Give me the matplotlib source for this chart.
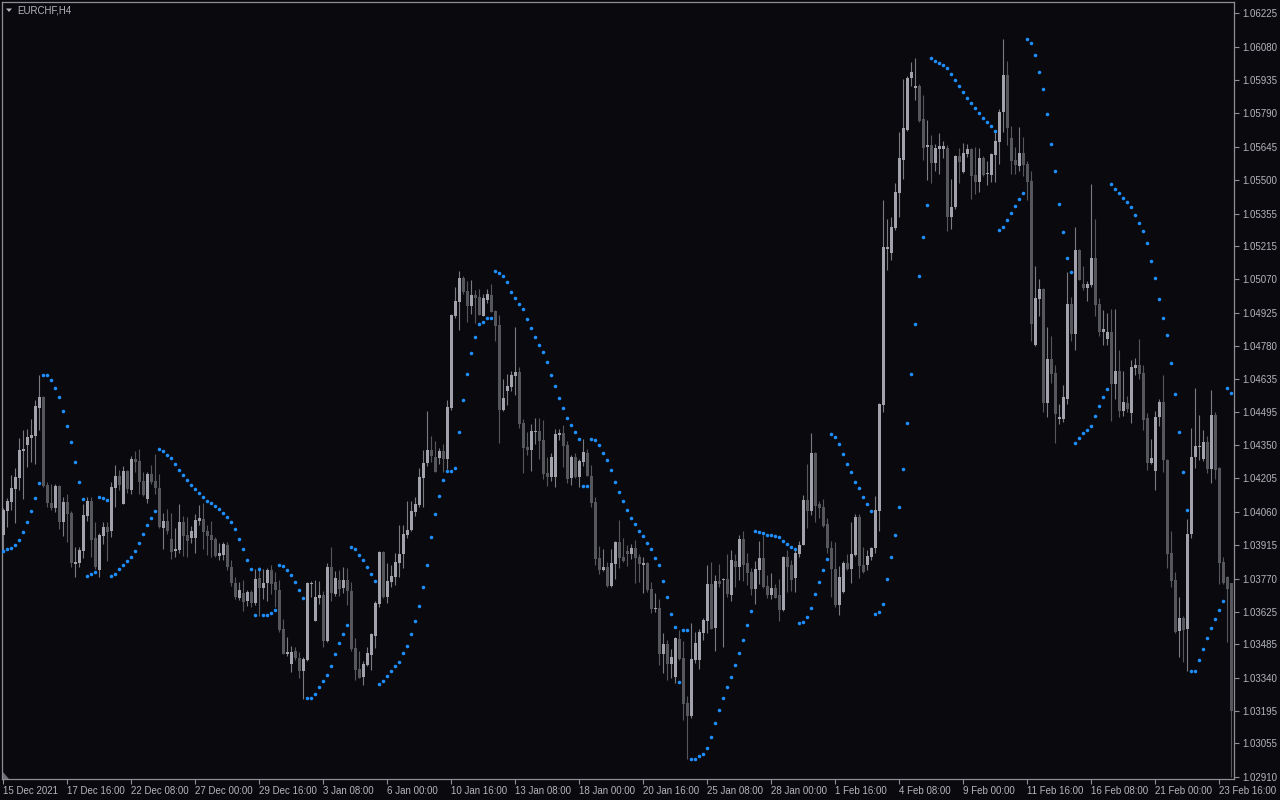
import matplotlib
matplotlib.use("Agg")
import matplotlib.pyplot as plt
import matplotlib.transforms as mtransforms
from matplotlib.patches import Polygon
import numpy as np

symbol_label = "EURCHF,H4"

open_ = [
    1.03960, 1.04064, 1.04103, 1.04159, 1.04207, 1.04324, 1.04350, 1.04381, 1.04390, 1.04511,
    1.04559, 1.04177, 1.04097, 1.04077, 1.04172, 1.04016, 1.04103, 1.04055, 1.03834, 1.03838,
    1.03890, 1.04042, 1.04107, 1.03947, 1.03808, 1.03955, 1.03994, 1.03977, 1.04164, 1.04216,
    1.04094, 1.04238, 1.04155, 1.04290, 1.04281, 1.04194, 1.04116, 1.04225, 1.04194, 1.04164,
    1.03990, 1.04020, 1.03942, 1.03890, 1.03895, 1.04016, 1.03960, 1.03947, 1.03947, 1.04020,
    1.04029, 1.03977, 1.03960, 1.03942, 1.03868, 1.03873, 1.03916, 1.03821, 1.03751, 1.03686,
    1.03708, 1.03673, 1.03712, 1.03664, 1.03773, 1.03730, 1.03751, 1.03808, 1.03756, 1.03721,
    1.03552, 1.03443, 1.03400, 1.03456, 1.03426, 1.03369, 1.03417, 1.03748, 1.03586, 1.03686,
    1.03699, 1.03499, 1.03821, 1.03704, 1.03764, 1.03730, 1.03764, 1.03717, 1.03469, 1.03378,
    1.03343, 1.03395, 1.03439, 1.03521, 1.03660, 1.03886, 1.03690, 1.03756, 1.03777, 1.03838,
    1.03877, 1.03960, 1.03981, 1.04060, 1.04090, 1.04207, 1.04272, 1.04329, 1.04298, 1.04294,
    1.04324, 1.04290, 1.04511, 1.04911, 1.04971, 1.05076, 1.05019, 1.04954, 1.05002, 1.04993,
    1.04911, 1.04980, 1.05002, 1.04932, 1.04871, 1.04502, 1.04585, 1.04602, 1.04650, 1.04667,
    1.04446, 1.04342, 1.04329, 1.04407, 1.04411, 1.04372, 1.04229, 1.04212, 1.04212, 1.04394,
    1.04403, 1.04350, 1.04207, 1.04298, 1.04212, 1.04277, 1.04316, 1.04216, 1.04103, 1.03860,
    1.03808, 1.03821, 1.03738, 1.03834, 1.03929, 1.03864, 1.03890, 1.03877, 1.03903, 1.03864,
    1.03829, 1.03838, 1.03725, 1.03638, 1.03643, 1.03443, 1.03486, 1.03400, 1.03343, 1.03508,
    1.03426, 1.03230, 1.03174, 1.03417, 1.03417, 1.03534, 1.03586, 1.03747, 1.03556, 1.03760,
    1.03764, 1.03769, 1.03699, 1.03847, 1.03821, 1.03940, 1.03837, 1.03798, 1.03723, 1.03809,
    1.03858, 1.03740, 1.03700, 1.03729, 1.03697, 1.03636, 1.03865, 1.03829, 1.03774, 1.03878,
    1.03917, 1.04113, 1.04062, 1.04317, 1.04096, 1.04083, 1.04006, 1.03904, 1.03814, 1.03657,
    1.03710, 1.03840, 1.03814, 1.03874, 1.04039, 1.03830, 1.03830, 1.03865, 1.03901, 1.04062,
    1.04522, 1.05202, 1.05183, 1.05292, 1.05443, 1.05588, 1.05718, 1.05944, 1.05900, 1.05910,
    1.05765, 1.05644, 1.05652, 1.05574, 1.05634, 1.05634, 1.05640, 1.05339, 1.05384, 1.05604,
    1.05535, 1.05614, 1.05634, 1.05522, 1.05492, 1.05596, 1.05525, 1.05522, 1.05610, 1.05666,
    1.05796, 1.05957, 1.05683, 1.05590, 1.05561, 1.05617, 1.05571, 1.05497, 1.04784, 1.04985,
    1.05028, 1.04534, 1.04724, 1.04664, 1.04464, 1.04464, 1.04551, 1.04962, 1.04832, 1.05197,
    1.05050, 1.05032, 1.05046, 1.05162, 1.04962, 1.04842, 1.04811, 1.04842, 1.04617, 1.04671,
    1.04499, 1.04532, 1.04491, 1.04685, 1.04699, 1.04664, 1.04466, 1.04272, 1.04237, 1.04474,
    1.04538, 1.04287, 1.03881, 1.03764, 1.03542, 1.03600, 1.03551, 1.03964, 1.04299, 1.04340,
    1.04291, 1.04363, 1.04247, 1.04482, 1.04251, 1.03842, 1.03778, 1.03751,
]

high = [
    1.04076, 1.04119, 1.04220, 1.04251, 1.04381, 1.04416, 1.04420, 1.04463, 1.04546, 1.04654,
    1.04562, 1.04190, 1.04181, 1.04181, 1.04177, 1.04125, 1.04138, 1.04064, 1.03908, 1.03908,
    1.04094, 1.04125, 1.04125, 1.04016, 1.03968, 1.04016, 1.04016, 1.04190, 1.04264, 1.04242,
    1.04259, 1.04242, 1.04303, 1.04324, 1.04333, 1.04233, 1.04233, 1.04264, 1.04311, 1.04225,
    1.04055, 1.04073, 1.04055, 1.03990, 1.04094, 1.04042, 1.04038, 1.03999, 1.04051, 1.04090,
    1.04099, 1.04003, 1.04020, 1.03951, 1.03925, 1.03929, 1.03929, 1.03851, 1.03777, 1.03756,
    1.03764, 1.03721, 1.03721, 1.03812, 1.03821, 1.03812, 1.03816, 1.03829, 1.03799, 1.03764,
    1.03595, 1.03517, 1.03478, 1.03474, 1.03452, 1.03430, 1.03756, 1.03760, 1.03764, 1.03760,
    1.03717, 1.03838, 1.03908, 1.03803, 1.03808, 1.03821, 1.03816, 1.03756, 1.03512, 1.03456,
    1.03413, 1.03474, 1.03532, 1.03673, 1.03890, 1.03892, 1.03838, 1.03829, 1.03882, 1.04003,
    1.04003, 1.04107, 1.04107, 1.04125, 1.04251, 1.04329, 1.04498, 1.04390, 1.04368, 1.04337,
    1.04355, 1.04546, 1.04919, 1.05036, 1.05106, 1.05084, 1.05063, 1.05067, 1.05023, 1.05028,
    1.05006, 1.05028, 1.05050, 1.04937, 1.04915, 1.04637, 1.04659, 1.04672, 1.04863, 1.04689,
    1.04463, 1.04407, 1.04442, 1.04468, 1.04468, 1.04459, 1.04298, 1.04316, 1.04420, 1.04420,
    1.04437, 1.04368, 1.04307, 1.04316, 1.04290, 1.04377, 1.04333, 1.04264, 1.04125, 1.03912,
    1.03899, 1.03842, 1.03899, 1.03934, 1.04025, 1.03947, 1.03916, 1.03921, 1.03938, 1.03877,
    1.03864, 1.03842, 1.03756, 1.03708, 1.03682, 1.03534, 1.03504, 1.03465, 1.03517, 1.03547,
    1.03499, 1.03261, 1.03578, 1.03539, 1.03552, 1.03599, 1.03829, 1.03842, 1.03786, 1.03834,
    1.03771, 1.03877, 1.03895, 1.03877, 1.03960, 1.03977, 1.03880, 1.03816, 1.03845, 1.03935,
    1.03961, 1.03787, 1.03796, 1.03748, 1.03767, 1.03870, 1.03896, 1.03851, 1.03896, 1.03935,
    1.04134, 1.04269, 1.04401, 1.04320, 1.04109, 1.04118, 1.04034, 1.03935, 1.03931, 1.03826,
    1.03845, 1.03878, 1.04018, 1.04052, 1.04049, 1.03909, 1.03896, 1.03909, 1.04131, 1.04532,
    1.05413, 1.05330, 1.05339, 1.05487, 1.05709, 1.05940, 1.05953, 1.06014, 1.06030, 1.05917,
    1.05869, 1.05762, 1.05696, 1.05657, 1.05705, 1.05670, 1.05652, 1.05504, 1.05609, 1.05640,
    1.05662, 1.05657, 1.05640, 1.05644, 1.05640, 1.05604, 1.05584, 1.05619, 1.05716, 1.05811,
    1.06114, 1.06019, 1.05736, 1.05644, 1.05732, 1.05687, 1.05584, 1.05540, 1.05127, 1.05071,
    1.05030, 1.04863, 1.04825, 1.04699, 1.04528, 1.04609, 1.05102, 1.04995, 1.05297, 1.05201,
    1.05127, 1.05061, 1.05484, 1.05333, 1.04989, 1.04937, 1.04924, 1.04941, 1.04941, 1.04765,
    1.04671, 1.04563, 1.04718, 1.04728, 1.04811, 1.04699, 1.04489, 1.04377, 1.04499, 1.04548,
    1.04654, 1.04289, 1.03977, 1.03799, 1.03690, 1.03609, 1.04030, 1.04423, 1.04598, 1.04482,
    1.04416, 1.04390, 1.04590, 1.04493, 1.04253, 1.03865, 1.03780, 1.03753,
]

low = [
    1.03887, 1.03996, 1.04068, 1.04013, 1.04155, 1.04117, 1.04256, 1.04278, 1.04269, 1.04416,
    1.04170, 1.04081, 1.04068, 1.04060, 1.03986, 1.03955, 1.03929, 1.03821, 1.03777, 1.03821,
    1.03860, 1.04020, 1.03864, 1.03812, 1.03777, 1.03921, 1.03847, 1.03951, 1.04081, 1.04155,
    1.04092, 1.04142, 1.04138, 1.04233, 1.04138, 1.04129, 1.04099, 1.04181, 1.04138, 1.03992,
    1.03899, 1.03964, 1.03855, 1.03864, 1.03882, 1.03868, 1.03864, 1.03925, 1.03882, 1.04003,
    1.03899, 1.03873, 1.03864, 1.03864, 1.03851, 1.03851, 1.03808, 1.03738, 1.03682, 1.03677,
    1.03630, 1.03651, 1.03648, 1.03656, 1.03608, 1.03682, 1.03673, 1.03704, 1.03647, 1.03539,
    1.03441, 1.03434, 1.03365, 1.03417, 1.03339, 1.03248, 1.03413, 1.03690, 1.03584, 1.03660,
    1.03474, 1.03495, 1.03673, 1.03695, 1.03695, 1.03708, 1.03656, 1.03456, 1.03330, 1.03337,
    1.03308, 1.03391, 1.03374, 1.03469, 1.03647, 1.03688, 1.03664, 1.03734, 1.03743, 1.03777,
    1.03816, 1.03947, 1.03977, 1.04042, 1.04081, 1.04081, 1.04259, 1.04277, 1.04231, 1.04268,
    1.04233, 1.04246, 1.04502, 1.04902, 1.04850, 1.05006, 1.04885, 1.04919, 1.04880, 1.04913,
    1.04909, 1.04967, 1.04926, 1.04802, 1.04359, 1.04500, 1.04524, 1.04585, 1.04568, 1.04424,
    1.04229, 1.04307, 1.04238, 1.04355, 1.04290, 1.04203, 1.04172, 1.04194, 1.04168, 1.04372,
    1.04255, 1.04185, 1.04177, 1.04205, 1.04168, 1.04259, 1.04214, 1.04081, 1.03829, 1.03790,
    1.03803, 1.03734, 1.03734, 1.03769, 1.03816, 1.03842, 1.03825, 1.03855, 1.03751, 1.03756,
    1.03708, 1.03712, 1.03621, 1.03625, 1.03395, 1.03360, 1.03330, 1.03339, 1.03317, 1.03417,
    1.03156, 1.02987, 1.03165, 1.03404, 1.03378, 1.03504, 1.03534, 1.03550, 1.03456, 1.03734,
    1.03474, 1.03690, 1.03673, 1.03734, 1.03764, 1.03761, 1.03742, 1.03697, 1.03661, 1.03748,
    1.03729, 1.03684, 1.03680, 1.03684, 1.03588, 1.03631, 1.03713, 1.03718, 1.03713, 1.03864,
    1.03914, 1.03990, 1.04046, 1.04018, 1.04034, 1.03996, 1.03883, 1.03689, 1.03648, 1.03613,
    1.03708, 1.03809, 1.03753, 1.03870, 1.03771, 1.03796, 1.03806, 1.03853, 1.03883, 1.03975,
    1.04493, 1.05109, 1.05152, 1.05282, 1.05339, 1.05504, 1.05713, 1.05910, 1.05848, 1.05752,
    1.05588, 1.05501, 1.05487, 1.05540, 1.05527, 1.05596, 1.05279, 1.05287, 1.05374, 1.05487,
    1.05530, 1.05601, 1.05417, 1.05439, 1.05448, 1.05520, 1.05478, 1.05493, 1.05493, 1.05571,
    1.05710, 1.05652, 1.05525, 1.05525, 1.05540, 1.05517, 1.05416, 1.04803, 1.04782, 1.04912,
    1.04495, 1.04474, 1.04621, 1.04361, 1.04443, 1.04452, 1.04528, 1.04803, 1.04765, 1.05065,
    1.05024, 1.04976, 1.05038, 1.04910, 1.04825, 1.04786, 1.04784, 1.04454, 1.04548, 1.04470,
    1.04478, 1.04495, 1.04446, 1.04656, 1.04637, 1.04416, 1.04243, 1.04266, 1.04156, 1.04431,
    1.04233, 1.03816, 1.03733, 1.03532, 1.03431, 1.03410, 1.03367, 1.03948, 1.04249, 1.04287,
    1.04280, 1.04229, 1.04187, 1.04202, 1.03747, 1.03747, 1.03497, 1.02909,
]

close = [
    1.04068, 1.04107, 1.04164, 1.04212, 1.04329, 1.04334, 1.04385, 1.04394, 1.04520, 1.04559,
    1.04172, 1.04099, 1.04077, 1.04172, 1.04016, 1.04103, 1.04051, 1.03838, 1.03844, 1.03895,
    1.04047, 1.04107, 1.03938, 1.03821, 1.03960, 1.03994, 1.03973, 1.04168, 1.04216, 1.04177,
    1.04238, 1.04159, 1.04290, 1.04277, 1.04190, 1.04133, 1.04225, 1.04190, 1.04164, 1.03994,
    1.04020, 1.03977, 1.03886, 1.03899, 1.04016, 1.03955, 1.03934, 1.03977, 1.04025, 1.04033,
    1.03973, 1.03955, 1.03938, 1.03868, 1.03882, 1.03921, 1.03821, 1.03751, 1.03690, 1.03721,
    1.03669, 1.03712, 1.03664, 1.03769, 1.03730, 1.03751, 1.03808, 1.03747, 1.03721, 1.03547,
    1.03443, 1.03452, 1.03452, 1.03426, 1.03369, 1.03421, 1.03751, 1.03751, 1.03690, 1.03699,
    1.03499, 1.03821, 1.03708, 1.03773, 1.03725, 1.03764, 1.03717, 1.03465, 1.03374, 1.03339,
    1.03400, 1.03447, 1.03530, 1.03664, 1.03886, 1.03690, 1.03760, 1.03782, 1.03842, 1.03877,
    1.03964, 1.03981, 1.04064, 1.04094, 1.04212, 1.04272, 1.04329, 1.04303, 1.04233, 1.04324,
    1.04290, 1.04515, 1.04915, 1.04976, 1.05076, 1.05015, 1.04954, 1.05002, 1.04989, 1.04915,
    1.04989, 1.05006, 1.04928, 1.04867, 1.04502, 1.04555, 1.04607, 1.04654, 1.04667, 1.04442,
    1.04338, 1.04329, 1.04411, 1.04411, 1.04368, 1.04225, 1.04212, 1.04298, 1.04398, 1.04403,
    1.04346, 1.04203, 1.04298, 1.04212, 1.04281, 1.04320, 1.04216, 1.04099, 1.03855, 1.03808,
    1.03821, 1.03738, 1.03838, 1.03929, 1.03860, 1.03847, 1.03877, 1.03903, 1.03860, 1.03834,
    1.03838, 1.03721, 1.03638, 1.03643, 1.03443, 1.03486, 1.03400, 1.03430, 1.03512, 1.03421,
    1.03226, 1.03174, 1.03421, 1.03491, 1.03539, 1.03591, 1.03747, 1.03552, 1.03760, 1.03747,
    1.03769, 1.03704, 1.03851, 1.03821, 1.03942, 1.03829, 1.03793, 1.03723, 1.03814, 1.03858,
    1.03735, 1.03700, 1.03729, 1.03687, 1.03636, 1.03865, 1.03822, 1.03766, 1.03883, 1.03917,
    1.04113, 1.04065, 1.04317, 1.04087, 1.04078, 1.04000, 1.03901, 1.03814, 1.03657, 1.03779,
    1.03840, 1.03814, 1.03878, 1.04039, 1.03827, 1.03799, 1.03870, 1.03904, 1.04070, 1.04527,
    1.05208, 1.05208, 1.05295, 1.05448, 1.05596, 1.05726, 1.05944, 1.05969, 1.05910, 1.05757,
    1.05640, 1.05652, 1.05574, 1.05640, 1.05647, 1.05647, 1.05339, 1.05384, 1.05604, 1.05578,
    1.05617, 1.05634, 1.05517, 1.05492, 1.05596, 1.05522, 1.05532, 1.05614, 1.05670, 1.05796,
    1.05957, 1.05726, 1.05584, 1.05567, 1.05617, 1.05567, 1.05493, 1.04877, 1.04989, 1.05028,
    1.04534, 1.04724, 1.04660, 1.04483, 1.04470, 1.04559, 1.04962, 1.04832, 1.05197, 1.05067,
    1.05032, 1.05050, 1.05162, 1.04958, 1.04842, 1.04854, 1.04842, 1.04617, 1.04671, 1.04499,
    1.04538, 1.04507, 1.04689, 1.04699, 1.04660, 1.04460, 1.04272, 1.04294, 1.04474, 1.04538,
    1.04287, 1.03877, 1.03760, 1.03538, 1.03600, 1.03547, 1.03964, 1.04299, 1.04348, 1.04348,
    1.04363, 1.04247, 1.04482, 1.04241, 1.03838, 1.03749, 1.03726, 1.03196,
]

sar = [
    1.03892, 1.03898, 1.03902, 1.03915, 1.03937, 1.03971, 1.04015, 1.04063, 1.04119, 1.04184,
    1.04653, 1.04653, 1.04631, 1.04597, 1.04558, 1.04497, 1.04432, 1.04362, 1.04275, 1.04189,
    1.04115, 1.03780, 1.03789, 1.03798, 1.04123, 1.04119, 1.04110, 1.03780, 1.03789, 1.03811,
    1.03828, 1.03845, 1.03863, 1.03889, 1.03924, 1.03963, 1.04002, 1.04032, 1.04063, 1.04332,
    1.04323, 1.04306, 1.04293, 1.04267, 1.04241, 1.04219, 1.04197, 1.04175, 1.04158, 1.04141,
    1.04123, 1.04106, 1.04097, 1.04084, 1.04071, 1.04054, 1.04037, 1.04015, 1.03984, 1.03941,
    1.03898, 1.03850, 1.03811, 1.03611, 1.03811, 1.03611, 1.03611, 1.03620, 1.03633, 1.03828,
    1.03824, 1.03806, 1.03785, 1.03754, 1.03720, 1.03685, 1.03251, 1.03251, 1.03268, 1.03298,
    1.03324, 1.03350, 1.03390, 1.03442, 1.03489, 1.03529, 1.03568, 1.03906, 1.03898, 1.03872,
    1.03850, 1.03819, 1.03789, 1.03759, 1.03311, 1.03324, 1.03346, 1.03368, 1.03390, 1.03407,
    1.03446, 1.03476, 1.03529, 1.03585, 1.03650, 1.03733, 1.03828, 1.03950, 1.04050, 1.04128,
    1.04197, 1.04236, 1.04236, 1.04249, 1.04406, 1.04545, 1.04657, 1.04749, 1.04818, 1.04875,
    1.04883, 1.04901, 1.04901, 1.05105, 1.05099, 1.05084, 1.05058, 1.05013, 1.04987, 1.04961,
    1.04940, 1.04896, 1.04857, 1.04818, 1.04783, 1.04753, 1.04710, 1.04653, 1.04605, 1.04553,
    1.04510, 1.04466, 1.04436, 1.04406, 1.04375, 1.04171, 1.04171, 1.04375, 1.04371, 1.04349,
    1.04314, 1.04284, 1.04241, 1.04189, 1.04145, 1.04106, 1.04067, 1.04032, 1.04006, 1.03976,
    1.03954, 1.03924, 1.03898, 1.03859, 1.03828, 1.03759, 1.03689, 1.03615, 1.03559, 1.03320,
    1.03546, 1.03546, 1.02986, 1.02986, 1.02999, 1.03007, 1.03034, 1.03081, 1.03142, 1.03199,
    1.03251, 1.03298, 1.03342, 1.03394, 1.03446, 1.03504, 1.03569, 1.03631, 1.03978, 1.03973,
    1.03968, 1.03959, 1.03959, 1.03954, 1.03951, 1.03935, 1.03922, 1.03909, 1.03899, 1.03578,
    1.03582, 1.03605, 1.03644, 1.03705, 1.03756, 1.03809, 1.03856, 1.04400, 1.04386, 1.04356,
    1.04313, 1.04269, 1.04231, 1.04190, 1.04162, 1.04126, 1.04096, 1.04065, 1.03618, 1.03626,
    1.03661, 1.03769, 1.03865, 1.03961, 1.04083, 1.04244, 1.04448, 1.04657, 1.04874, 1.05083,
    1.05252, 1.05392, 1.06030, 1.06017, 1.06008, 1.06000, 1.05987, 1.05961, 1.05935, 1.05908,
    1.05882, 1.05857, 1.05834, 1.05813, 1.05791, 1.05770, 1.05751, 1.05734, 1.05713, 1.05282,
    1.05296, 1.05327, 1.05356, 1.05387, 1.05418, 1.05443, 1.06112, 1.06094, 1.06044, 1.05968,
    1.05898, 1.05786, 1.05656, 1.05538, 1.05396, 1.05274, 1.05162, 1.05100, 1.04361, 1.04379,
    1.04402, 1.04417, 1.04435, 1.04476, 1.04518, 1.04557, 1.04592, 1.05482, 1.05460, 1.05443,
    1.05422, 1.05404, 1.05383, 1.05348, 1.05313, 1.05278, 1.05226, 1.05148, 1.05075, 1.04984,
    1.04900, 1.04826, 1.04707, 1.04571, 1.04406, 1.04231, 1.04066, 1.03369, 1.03369, 1.03415,
    1.03464, 1.03512, 1.03555, 1.03594, 1.03636, 1.03671, 1.04598, 1.04574,
]

xtick_labels = [
    "15 Dec 2021", "17 Dec 16:00", "22 Dec 08:00", "27 Dec 00:00", "29 Dec 16:00",
    "3 Jan 08:00", "6 Jan 00:00", "10 Jan 16:00", "13 Jan 08:00", "18 Jan 00:00",
    "20 Jan 16:00", "25 Jan 08:00", "28 Jan 00:00", "1 Feb 16:00", "4 Feb 08:00",
    "9 Feb 00:00", "11 Feb 16:00", "16 Feb 08:00", "21 Feb 00:00", "23 Feb 16:00",
]

ytick_values = [
    1.06225, 1.06080, 1.05935, 1.05790, 1.05645, 1.05500, 1.05355, 1.05215,
    1.05070, 1.04925, 1.04780, 1.04635, 1.04495, 1.04350, 1.04205, 1.04060,
    1.03915, 1.03770, 1.03625, 1.03485, 1.03340, 1.03195, 1.03055, 1.02910,
]

# ---------------- styling ----------------
BG = "#0a0a0e"
FRAME = "#8e8e94"
TEXT = "#b4b4bd"
BULL = "#a2a2ac"
BEAR = "#56565d"
WICK_BULL = "#7a7a82"
WICK_BEAR = "#56565d"
SAR_COLOR = "#1e8fff"
BARS_PER_LABEL = 16

plt.rcParams["font.family"] = ["Liberation Sans", "DejaVu Sans"]

W, H = 1280, 800
fig = plt.figure(figsize=(W / 100, H / 100), dpi=100, facecolor=BG)
ax = fig.add_axes([2 / W, 21 / H, 1232 / W, 777 / H], facecolor=BG)

o = np.array(open_)
c = np.array(close)
hi = np.maximum(np.array(high), np.maximum(o, c))
lo = np.minimum(np.array(low), np.minimum(o, c))
n = len(c)
x = np.arange(n)
bull = c >= o

wick_cols = np.where(bull, WICK_BULL, WICK_BEAR)
ax.vlines(x, lo, hi, colors=list(wick_cols), linewidth=0.8, zorder=2)

body_bottom = np.minimum(o, c)
body_h = np.maximum(np.abs(c - o), 0.00004)
ax.bar(x, body_h, bottom=body_bottom, width=0.72,
       color=list(np.where(bull, BULL, BEAR)), linewidth=0, zorder=3)

ax.scatter(x, sar, s=6.5, c=SAR_COLOR, marker="o", linewidths=0, zorder=4)

ax.set_xlim(-0.325, 307.675)
ax.set_ylim(1.02900, 1.06274)

# y axis on the right
ax.yaxis.tick_right()
ax.set_yticks(ytick_values)
ax.set_yticklabels([f"{v:.5f}" for v in ytick_values])

# x axis
xt = np.arange(0, n, BARS_PER_LABEL)[: len(xtick_labels)]
ax.set_xticks(xt)
ax.set_xticklabels(xtick_labels)
offset = mtransforms.ScaledTranslation(1.5 / 72, 0, fig.dpi_scale_trans)
for lab in ax.get_xticklabels():
    lab.set_horizontalalignment("left")
    lab.set_transform(lab.get_transform() + offset)

ax.tick_params(axis="both", colors=FRAME, labelcolor=TEXT, labelsize=7,
               length=3.5, width=0.8, direction="out")
ax.tick_params(axis="y", pad=2.5)
ax.tick_params(axis="x", pad=1.5)

for sp in ax.spines.values():
    sp.set_color(FRAME)
    sp.set_linewidth(0.9)

# symbol caption (top-left) with small triangle
tri = Polygon([(6 / W, 1 - 8.5 / H), (12 / W, 1 - 8.5 / H), (9 / W, 1 - 12 / H)],
              closed=True, transform=fig.transFigure, facecolor=TEXT, edgecolor="none")
fig.patches.append(tri)
fig.text(17 / W, 1 - 10.5 / H, symbol_label, color=TEXT, fontsize=7,
         ha="left", va="center")

# small chart-shift marker bottom-left
mark = Polygon([(3 / W, 1 - 772 / H), (3 / W, 1 - 778.5 / H), (9 / W, 1 - 778.5 / H)],
               closed=True, transform=fig.transFigure, facecolor="#6e6e76", edgecolor="none")
fig.patches.append(mark)

fig.savefig("out.png", dpi=100, facecolor=BG)
